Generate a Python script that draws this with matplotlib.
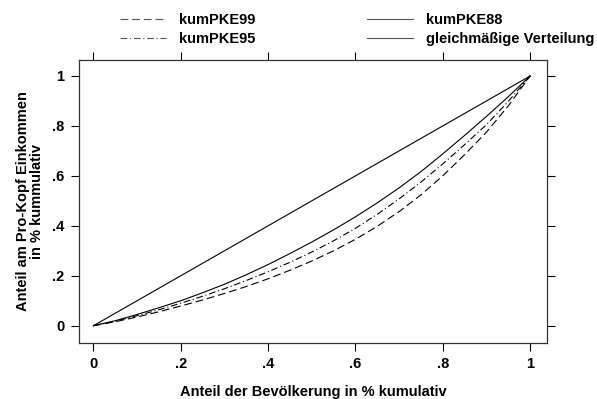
import matplotlib
matplotlib.use("Agg")
import matplotlib.pyplot as plt

# Anteil der Bevölkerung (kumulativ)
bev = [0, .05, .1, .15, .2, .25, .3, .35, .4, .45, .5,
       .55, .6, .65, .7, .75, .8, .85, .9, .95, 1.0]

# Lorenzkurven
kumPKE99 = [0, .016, .035, .056, .079, .103, .129, .157, .188, .222, .259,
            .300, .346, .398, .457, .524, .600, .685, .775, .880, 1.0]
kumPKE95 = [0, .018, .040, .064, .090, .118, .148, .181, .216, .254, .295,
            .340, .390, .446, .508, .575, .648, .725, .805, .898, 1.0]
kumPKE88 = [0, .020, .045, .072, .100, .132, .166, .204, .245, .289, .335,
            .384, .436, .492, .552, .617, .688, .762, .838, .917, 1.0]
gleich = [0, 1.0]

ticks = [0, 0.2, 0.4, 0.6, 0.8, 1.0]
tick_labels = ["0", ".2", ".4", ".6", ".8", "1"]

plt.rcParams["font.family"] = ["Liberation Sans", "DejaVu Sans"]
plt.rcParams["font.weight"] = "bold"
plt.rcParams["font.size"] = 10.5

fig = plt.figure(figsize=(5.97, 3.99), dpi=100)
ax = fig.add_axes([79 / 597, 1 - 342.7 / 399, (546.7 - 79) / 597, (342.7 - 60) / 399])

l99, = ax.plot(bev, kumPKE99, color="black", lw=0.8, dashes=(7, 3.5))
l95, = ax.plot(bev, kumPKE95, color="black", lw=0.8, dashes=(6, 2.5, 1, 2.5))
l88, = ax.plot(bev, kumPKE88, color="black", lw=0.8)
lg, = ax.plot(gleich, gleich, color="black", lw=0.8)

ax.set_xlim(-0.033, 1.038)
ax.set_ylim(-0.068, 1.064)

ax.set_xticks(ticks)
ax.set_xticklabels(tick_labels)
ax.set_yticks(ticks)
ax.set_yticklabels(tick_labels)
ax.tick_params(direction="out", length=5.5, width=0.8, top=True, right=True,
               labeltop=False, labelright=False, pad=5)
for s in ax.spines.values():
    s.set_linewidth(0.9)
    s.set_color("#333333")

ax.set_xlabel("Anteil der Bevölkerung in % kumulativ", fontweight="bold", labelpad=10)
ax.set_ylabel("Anteil am Pro-Kopf Einkommen\nin % kummulativ", fontweight="bold",
              labelpad=6, linespacing=1.0)

handles = [l99, l95, l88, lg]
labels = ["kumPKE99", "kumPKE95", "kumPKE88", "gleichmäßige Verteilung"]
leg = fig.legend(handles, labels, ncol=2, loc="upper left",
                 bbox_to_anchor=(113 / 597, 1 - 6 / 399), frameon=False,
                 borderpad=0, handlelength=3.15, handletextpad=0.9,
                 columnspacing=7.6, labelspacing=0.35)
for line in leg.get_lines():
    line.set_color("#555555")

fig.savefig("out.png", dpi=100)
